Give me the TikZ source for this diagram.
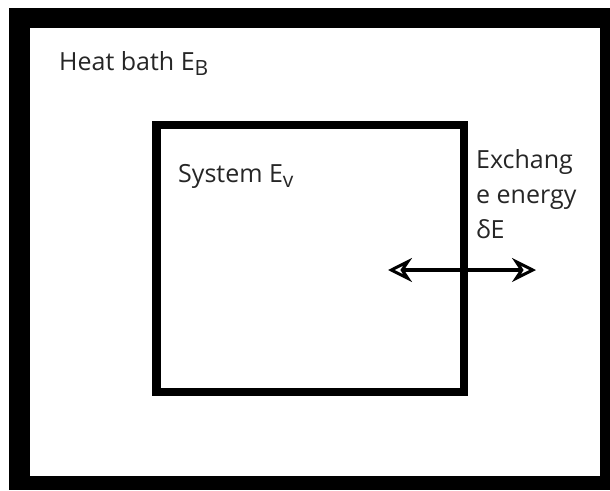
\documentclass[tikz,border=0pt]{standalone}
\usepackage{fontspec}
\setmainfont{Open Sans}
\usetikzlibrary{arrows.meta}
\newcommand{\lowsub}[1]{\raisebox{-5pt}{\fontsize{21}{24}\selectfont #1}}
\tikzset{
  lbl/.style={anchor=base west, inner sep=0pt, font=\fontsize{25}{30}\selectfont, text=black!85},
  sysbox/.style={draw=black, line width=8.5pt, inner sep=0pt, minimum width=307.5pt, minimum height=267pt},
  xarrow/.style={line width=4pt, {Stealth[open, length=24pt, width=24pt, inset=8pt, line width=3pt]}-{Stealth[open, length=24pt, width=24pt, inset=8pt, line width=3pt]}}
}
\begin{document}
\begin{tikzpicture}[x=1pt,y=-1pt]
\useasboundingbox (0,0) rectangle (610,490);
\fill[black] (9,8) rectangle (610,490);
\fill[white] (30,28) rectangle (600,476);
\node[sysbox] (sys) at (310.25,258.5) {};
\node[lbl] (hb) at (59,70) {Heat bath E\lowsub{B}};
\node[lbl] (sl) at (178,182) {System E\lowsub{v}};
\node[lbl] (ex1) at (476,168) {Exchang};
\node[lbl] (ex2) at (476,203) {e energy};
\node[lbl] (ex3) at (476,238) {δE};
\coordinate (al) at (388,270);
\coordinate (ar) at (536,270);
\draw[xarrow] (al) -- (ar);
\end{tikzpicture}
\end{document}
